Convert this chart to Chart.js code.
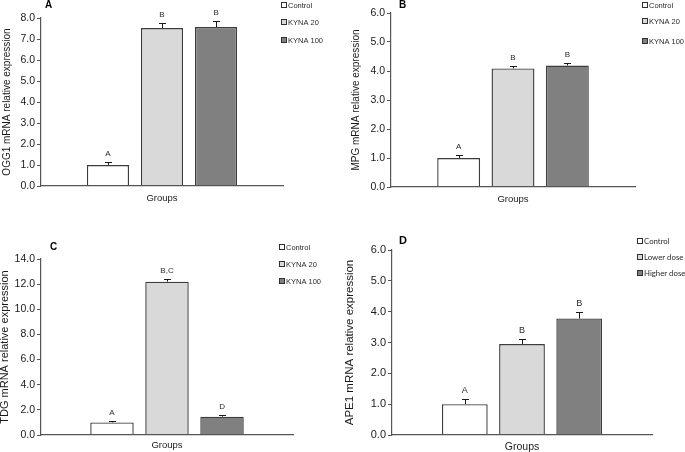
<!DOCTYPE html>
<html>
<head>
<meta charset="utf-8">
<script src="https://cdn.jsdelivr.net/npm/chart.js@4.4.0/dist/chart.umd.min.js"></script>
<style>
  html, body { margin: 0; padding: 0; background: #fff; }
  body { width: 685px; height: 452px; position: relative; overflow: hidden; }
  .panel { position: absolute; }
</style>
</head>
<body>
<div class="panel" style="left:0px;top:0px;width:342px;height:226px"><canvas id="cA"></canvas></div>
<div class="panel" style="left:342px;top:0px;width:343px;height:226px"><canvas id="cB"></canvas></div>
<div class="panel" style="left:0px;top:226px;width:342px;height:226px"><canvas id="cC"></canvas></div>
<div class="panel" style="left:342px;top:226px;width:343px;height:226px"><canvas id="cD"></canvas></div>
<script>
// ---------- DATA ----------
const groupLabels = ['Groups'];
const seriesNames = ['Control', 'KYNA 20', 'KYNA 100'];
const seriesNamesD = ['Control', 'Lower dose', 'Higher dose'];
const seriesColors = ['#ffffff', '#d9d9d9', '#808080'];

const ogg1Means = [1.00, 7.52, 7.57];
const ogg1Errors = [0.14, 0.23, 0.29];
const ogg1Letters = ['A', 'B', 'B'];
const ogg1Ticks = [0, 1, 2, 3, 4, 5, 6, 7, 8];

const mpgMeans = [1.00, 4.09, 4.19];
const mpgErrors = [0.10, 0.07, 0.07];
const mpgLetters = ['A', 'B', 'B'];
const mpgTicks = [0, 1, 2, 3, 4, 5, 6];

const tdgMeans = [1.00, 12.20, 1.46];
const tdgErrors = [0.10, 0.22, 0.14];
const tdgLetters = ['A', 'B,C', 'D'];
const tdgTicks = [0, 2, 4, 6, 8, 10, 12, 14];

const ape1Means = [1.00, 2.95, 3.78];
const ape1Errors = [0.16, 0.17, 0.22];
const ape1Letters = ['A', 'B', 'B'];
const ape1Ticks = [0, 1, 2, 3, 4, 5, 6];

// ---------- PLUGINS ----------
const ARIAL = '"Liberation Sans", Arial, sans-serif';
const extrasPlugin = {
  id: 'extras',
  afterDatasetsDraw(chart, args, opts) {
    const ctx = chart.ctx;
    const y = chart.scales.y;
    ctx.save();
    chart.data.datasets.forEach((ds, i) => {
      const bar = chart.getDatasetMeta(i).data[0];
      const v = ds.data[0];
      const e = opts.errors[i];
      const yTop = Math.round(y.getPixelForValue(v + e)) + 0.5;
      const x = Math.round(bar.x) + 0.5;
      ctx.strokeStyle = '#1a1a1a';
      ctx.lineWidth = 1;
      ctx.beginPath();
      ctx.moveTo(x, bar.y);
      ctx.lineTo(x, yTop);
      ctx.moveTo(x - 3.5, yTop);
      ctx.lineTo(x + 3.5, yTop);
      ctx.stroke();
      ctx.fillStyle = '#2a2a2a';
      ctx.font = opts.letterFont;
      ctx.textAlign = 'center';
      ctx.textBaseline = 'middle';
      ctx.fillText(opts.letters[i], bar.x, yTop - 9);
    });
    // panel letter
    ctx.font = 'bold ' + opts.panelSize + 'px ' + ARIAL;
    ctx.textAlign = 'left';
    ctx.textBaseline = 'middle';
    ctx.fillStyle = '#000';
    ctx.fillText(opts.panel, opts.panelX, opts.panelY);
    // legend
    ctx.font = opts.legendFont;
    chart.data.datasets.forEach((ds, i) => {
      const ly = Math.round(opts.legendYs[i]);
      const lx = opts.legendX;
      const s = opts.legendBox;
      ctx.fillStyle = ds.backgroundColor;
      ctx.fillRect(lx, ly - s / 2, s, s);
      ctx.strokeStyle = '#303030';
      ctx.lineWidth = 1;
      ctx.strokeRect(lx + 0.5, ly - s / 2 + 0.5, s - 1, s - 1);
      ctx.fillStyle = '#2a2a2a';
      ctx.fillText(ds.label, lx + s + 1, ly + 0.5);
    });
    ctx.restore();
  }
};

function makeChart(id, cfg) {
  const W = cfg.W, H = cfg.H;
  const ca = cfg.area; // [left, top, right, bottom]
  const xH = 20;
  new Chart(document.getElementById(id), {
    type: 'bar',
    data: {
      labels: groupLabels,
      datasets: cfg.names.map((n, i) => ({
        label: n,
        data: [cfg.means[i]],
        backgroundColor: seriesColors[i],
        borderColor: '#3c3c3c',
        borderWidth: 1.4,
        borderSkipped: 'start',
        barPercentage: cfg.barPct,
        categoryPercentage: cfg.catPct
      }))
    },
    options: {
      responsive: true,
      maintainAspectRatio: false,
      animation: false,
      events: [],
      layout: { padding: { left: 0, top: ca[1], right: W - ca[2], bottom: H - ca[3] - xH } },
      plugins: {
        legend: { display: false },
        tooltip: { enabled: false },
        extras: {
          errors: cfg.errors, letters: cfg.letters, letterFont: cfg.letterFont,
          panel: cfg.panel, panelX: cfg.panelX, panelY: cfg.panelY, panelSize: cfg.panelSize,
          legendX: cfg.legendX, legendYs: cfg.legendYs, legendFont: cfg.legendFont,
          legendBox: cfg.legendBox
        }
      },
      scales: {
        x: {
          grid: { display: false },
          border: { display: true, color: '#555555', width: 1.2, z: 1 },
          ticks: { display: false },
          title: { display: true, text: 'Groups', color: '#1a1a1a',
                   font: { family: ARIAL, size: cfg.groupsSize },
                   padding: { top: 0, bottom: cfg.groupsPad } },
          afterFit(s) { s.height = xH; }
        },
        y: {
          min: 0,
          max: cfg.ticks[cfg.ticks.length - 1],
          afterBuildTicks(s) { s.ticks = cfg.ticks.map(v => ({ value: v })); },
          grid: { display: true, drawOnChartArea: false, drawTicks: true, tickLength: 4, color: '#555555' },
          border: { display: true, color: '#555555', width: 1.2 },
          ticks: { padding: 2, color: '#1a1a1a',
                   font: { family: ARIAL, size: cfg.tickSize },
                   callback: v => Number(v).toFixed(1) },
          title: { display: true, text: cfg.yTitle, color: '#1a1a1a',
                   font: { family: ARIAL, size: cfg.yTitleSize },
                   padding: { top: cfg.yTitlePad, bottom: 0 } },
          afterFit(s) { s.width = ca[0]; }
        }
      }
    },
    plugins: [extrasPlugin]
  });
}

const lf = '7.5px ' + ARIAL;
makeChart('cA', { W: 342, H: 226, area: [41, 18, 283, 186], names: seriesNames,
  means: ogg1Means, errors: ogg1Errors, letters: ogg1Letters, ticks: ogg1Ticks,
  tickSize: 10.5, yTitle: 'OGG1 mRNA relative expression', yTitleSize: 10, yTitlePad: 1,
  groupsSize: 9.5, groupsPad: 2.3, letterFont: '8px ' + ARIAL,
  barPct: 0.78, catPct: 0.67, panel: 'A', panelX: 45, panelY: 5, panelSize: 10,
  legendX: 281, legendYs: [4.5, 21.5, 40], legendFont: lf, legendBox: 6 });
makeChart('cB', { W: 343, H: 226, area: [49, 13, 293, 187], names: seriesNames,
  means: mpgMeans, errors: mpgErrors, letters: mpgLetters, ticks: mpgTicks,
  tickSize: 10.5, yTitle: 'MPG mRNA relative expression', yTitleSize: 10, yTitlePad: 8,
  groupsSize: 9.5, groupsPad: 2.3, letterFont: '8px ' + ARIAL,
  barPct: 0.79, catPct: 0.668, panel: 'B', panelX: 57, panelY: 5, panelSize: 10,
  legendX: 300, legendYs: [4.5, 21, 41], legendFont: lf, legendBox: 6 });
makeChart('cC', { W: 342, H: 226, area: [41, 33, 293, 209], names: seriesNames,
  means: tdgMeans, errors: tdgErrors, letters: tdgLetters, ticks: tdgTicks,
  tickSize: 10.5, yTitle: 'TDG mRNA relative expression', yTitleSize: 11, yTitlePad: -2,
  groupsSize: 9.5, groupsPad: 3.5, letterFont: '8px ' + ARIAL,
  barPct: 0.79, catPct: 0.655, panel: 'C', panelX: 50, panelY: 21, panelSize: 10,
  legendX: 279, legendYs: [21, 38, 55], legendFont: lf, legendBox: 6 });
makeChart('cD', { W: 343, H: 226, area: [50, 24, 310, 209], names: seriesNamesD,
  means: ape1Means, errors: ape1Errors, letters: ape1Letters, ticks: ape1Ticks,
  tickSize: 11, yTitle: 'APE1 mRNA relative expression', yTitleSize: 11.5, yTitlePad: 0.6,
  groupsSize: 10.5, groupsPad: 1.7, letterFont: '9px ' + ARIAL,
  barPct: 0.80, catPct: 0.66, panel: 'D', panelX: 57, panelY: 15, panelSize: 11,
  legendX: 295, legendYs: [15, 31, 47], legendFont: '7.8px Lato, "Open Sans", sans-serif', legendBox: 6 });
</script>
</body>
</html>
